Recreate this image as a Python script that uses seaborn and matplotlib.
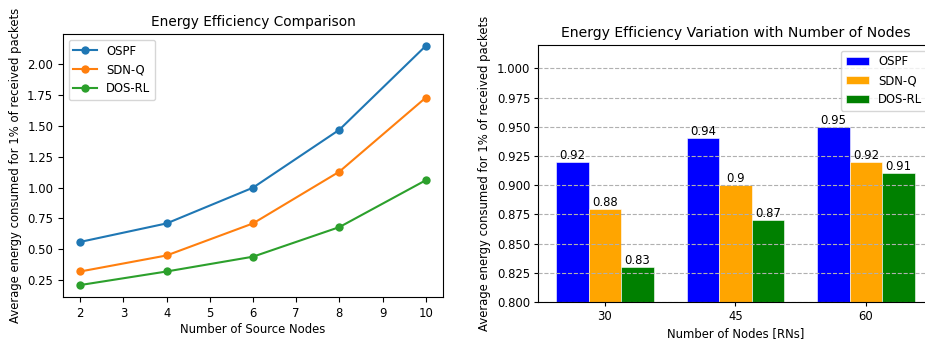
import matplotlib
matplotlib.use("Agg")
import matplotlib.pyplot as plt
import seaborn as sns
import pandas as pd

# Left chart data
source_nodes = [2, 4, 6, 8, 10]
ospf_line = [0.56, 0.71, 1.00, 1.47, 2.15]
sdnq_line = [0.32, 0.45, 0.71, 1.13, 1.73]
dosrl_line = [0.21, 0.32, 0.44, 0.68, 1.06]

# Right chart data
node_counts = ["30", "45", "60"]
ospf_bar = [0.92, 0.94, 0.95]
sdnq_bar = [0.88, 0.90, 0.92]
dosrl_bar = [0.83, 0.87, 0.91]

methods = ["OSPF", "SDN-Q", "DOS-RL"]
ylabel = "Average energy consumed for 1% of received packets"

plt.rcParams['font.family'] = ['DejaVu Sans']
plt.rcParams['font.size'] = 8.4

fig = plt.figure(figsize=(9.25, 3.4), dpi=100)

# ---- Left: line chart ----
ax1 = fig.add_axes([0.0681, 0.1265, 0.4108, 0.7735])
df_line = pd.DataFrame({
    "x": source_nodes * 3,
    "y": ospf_line + sdnq_line + dosrl_line,
    "method": [methods[0]] * 5 + [methods[1]] * 5 + [methods[2]] * 5,
})
line_colors = ["#1f77b4", "#ff7f0e", "#2ca02c"]
sns.lineplot(data=df_line, x="x", y="y", hue="method", hue_order=methods,
             palette=line_colors, marker="o", markersize=6, markeredgewidth=0,
             linewidth=1.5, ax=ax1)
ax1.set_title("Energy Efficiency Comparison", fontsize=9.8)
ax1.set_xlabel("Number of Source Nodes", labelpad=2.5)
ax1.set_ylabel(ylabel)
ax1.set_xticks([2, 3, 4, 5, 6, 7, 8, 9, 10])
ax1.set_yticks([0.25, 0.50, 0.75, 1.00, 1.25, 1.50, 1.75, 2.00])
ax1.set_yticklabels([f"{v:.2f}" for v in [0.25, 0.50, 0.75, 1.00, 1.25, 1.50, 1.75, 2.00]])
ax1.set_xlim(1.6, 10.4)
ax1.set_ylim(0.113, 2.247)
ax1.legend(loc="upper left", title=None)

# ---- Right: grouped bar chart ----
ax2 = fig.add_axes([0.5816, 0.1118, 0.4270, 0.7559])
df_bar = pd.DataFrame({
    "nodes": node_counts * 3,
    "value": ospf_bar + sdnq_bar + dosrl_bar,
    "method": [methods[0]] * 3 + [methods[1]] * 3 + [methods[2]] * 3,
})
sns.barplot(data=df_bar, x="nodes", y="value", hue="method", hue_order=methods,
            order=node_counts, palette=["blue", "orange", "green"],
            saturation=1, width=0.75, edgecolor="white", linewidth=0.4,
            ax=ax2, zorder=1)
for cont in ax2.containers:
    ax2.bar_label(cont, labels=[f"{v:g}" for v in cont.datavalues],
                  padding=0, fontsize=8.4)
ax2.set_ylim(0.8, 1.02)
ax2.set_xlim(-0.5125, 2.5125)
ax2.set_yticks([0.800, 0.825, 0.850, 0.875, 0.900, 0.925, 0.950, 0.975, 1.000])
ax2.set_yticklabels([f"{v:.3f}" for v in [0.800, 0.825, 0.850, 0.875, 0.900, 0.925, 0.950, 0.975, 1.000]])
ax2.tick_params(length=3, pad=2.5)
ax2.yaxis.grid(True, linestyle="--", color="#b0b0b0", linewidth=0.8, zorder=1.5)
ax2.set_axisbelow(False)
ax2.set_title("Energy Efficiency Variation with Number of Nodes", fontsize=10.1)
ax2.set_xlabel("Number of Nodes [RNs]", labelpad=3)
ax2.set_ylabel(ylabel)
ax2.legend(loc="upper right", title=None)

fig.savefig("out.png", dpi=100)
